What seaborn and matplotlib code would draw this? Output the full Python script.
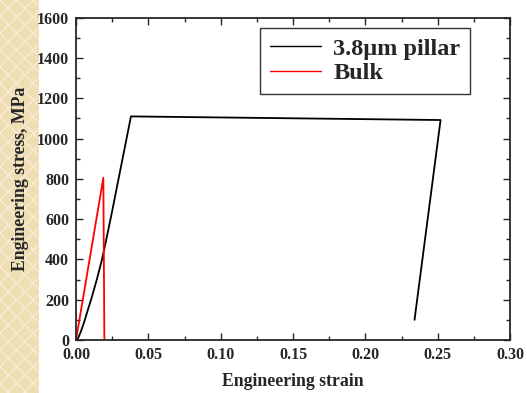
import matplotlib
matplotlib.use("Agg")
import matplotlib.pyplot as plt
import seaborn as sns
import pandas as pd
from matplotlib.patches import Rectangle
from matplotlib.ticker import MultipleLocator

# values
pillar_strain = [0.0005, 0.0015, 0.003, 0.0045, 0.0062, 0.008, 0.0104, 0.0125, 0.0143,
                 0.0178, 0.0207, 0.025, 0.0293, 0.0334, 0.038, 0.252, 0.234]
pillar_stress = [0, 10, 35, 65, 102, 145, 200, 252, 298, 395, 490, 640, 796, 944, 1110,
                 1092, 100]
bulk_strain = [0.0, 0.0189, 0.0196]
bulk_stress = [0, 805, 0]

pillar = pd.DataFrame({"strain": pillar_strain, "stress": pillar_stress})
bulk = pd.DataFrame({"strain": bulk_strain, "stress": bulk_stress})

sns.set_style("ticks")
plt.rcParams["font.family"] = ["Liberation Serif", "DejaVu Serif"]
plt.rcParams["font.weight"] = "bold"

fig = plt.figure(figsize=(5.27, 3.93), dpi=100)
# beige strip on the left
fig.patches.append(Rectangle((0, 0), 39 / 527, 1, transform=fig.transFigure,
                             facecolor="#EFDDB4", edgecolor="#F7ECD4", hatch="xx",
                             lw=0, zorder=-1))
ax = fig.add_axes([76 / 527, 1 - 340 / 393, 434 / 527, 322.3 / 393])

sns.lineplot(data=pillar, x="strain", y="stress", sort=False, estimator=None,
             color="black", lw=1.3, ax=ax, label="3.8\u03bcm pillar")
sns.lineplot(data=bulk, x="strain", y="stress", sort=False, estimator=None,
             color="red", lw=1.3, ax=ax, label="Bulk")

ax.set_xlim(0, 0.30)
ax.set_ylim(0, 1600)
ax.xaxis.set_major_locator(MultipleLocator(0.05))
ax.xaxis.set_minor_locator(MultipleLocator(0.025))
ax.yaxis.set_major_locator(MultipleLocator(200))
ax.yaxis.set_minor_locator(MultipleLocator(100))
ax.xaxis.set_major_formatter(plt.FuncFormatter(lambda v, p: f"{v:.2f}"))
ax.tick_params(which="both", direction="in", top=True, right=True,
               labelsize=11.5, width=1, pad=5)
ax.tick_params(which="major", length=5)
ax.tick_params(which="minor", length=3)
for s in ax.spines.values():
    s.set_linewidth(1.3)

ax.set_xlabel("Engineering strain", fontsize=12.8, fontweight="bold", labelpad=7)
ax.set_ylabel("Engineering stress, MPa", fontsize=12.8, fontweight="bold", labelpad=6)

leg = ax.legend(loc="upper right", bbox_to_anchor=(0.908, 0.968), fontsize=17.5,
                frameon=True, fancybox=False, edgecolor="black", handlelength=2.1,
                borderpad=0.4, labelspacing=0.1, handletextpad=0.5, borderaxespad=0)
leg.get_frame().set_linewidth(1.0)
for t in leg.get_texts():
    t.set_fontweight("bold")
for l in leg.get_lines():
    l.set_linewidth(1.0)

fig.savefig("out.png", dpi=100)
